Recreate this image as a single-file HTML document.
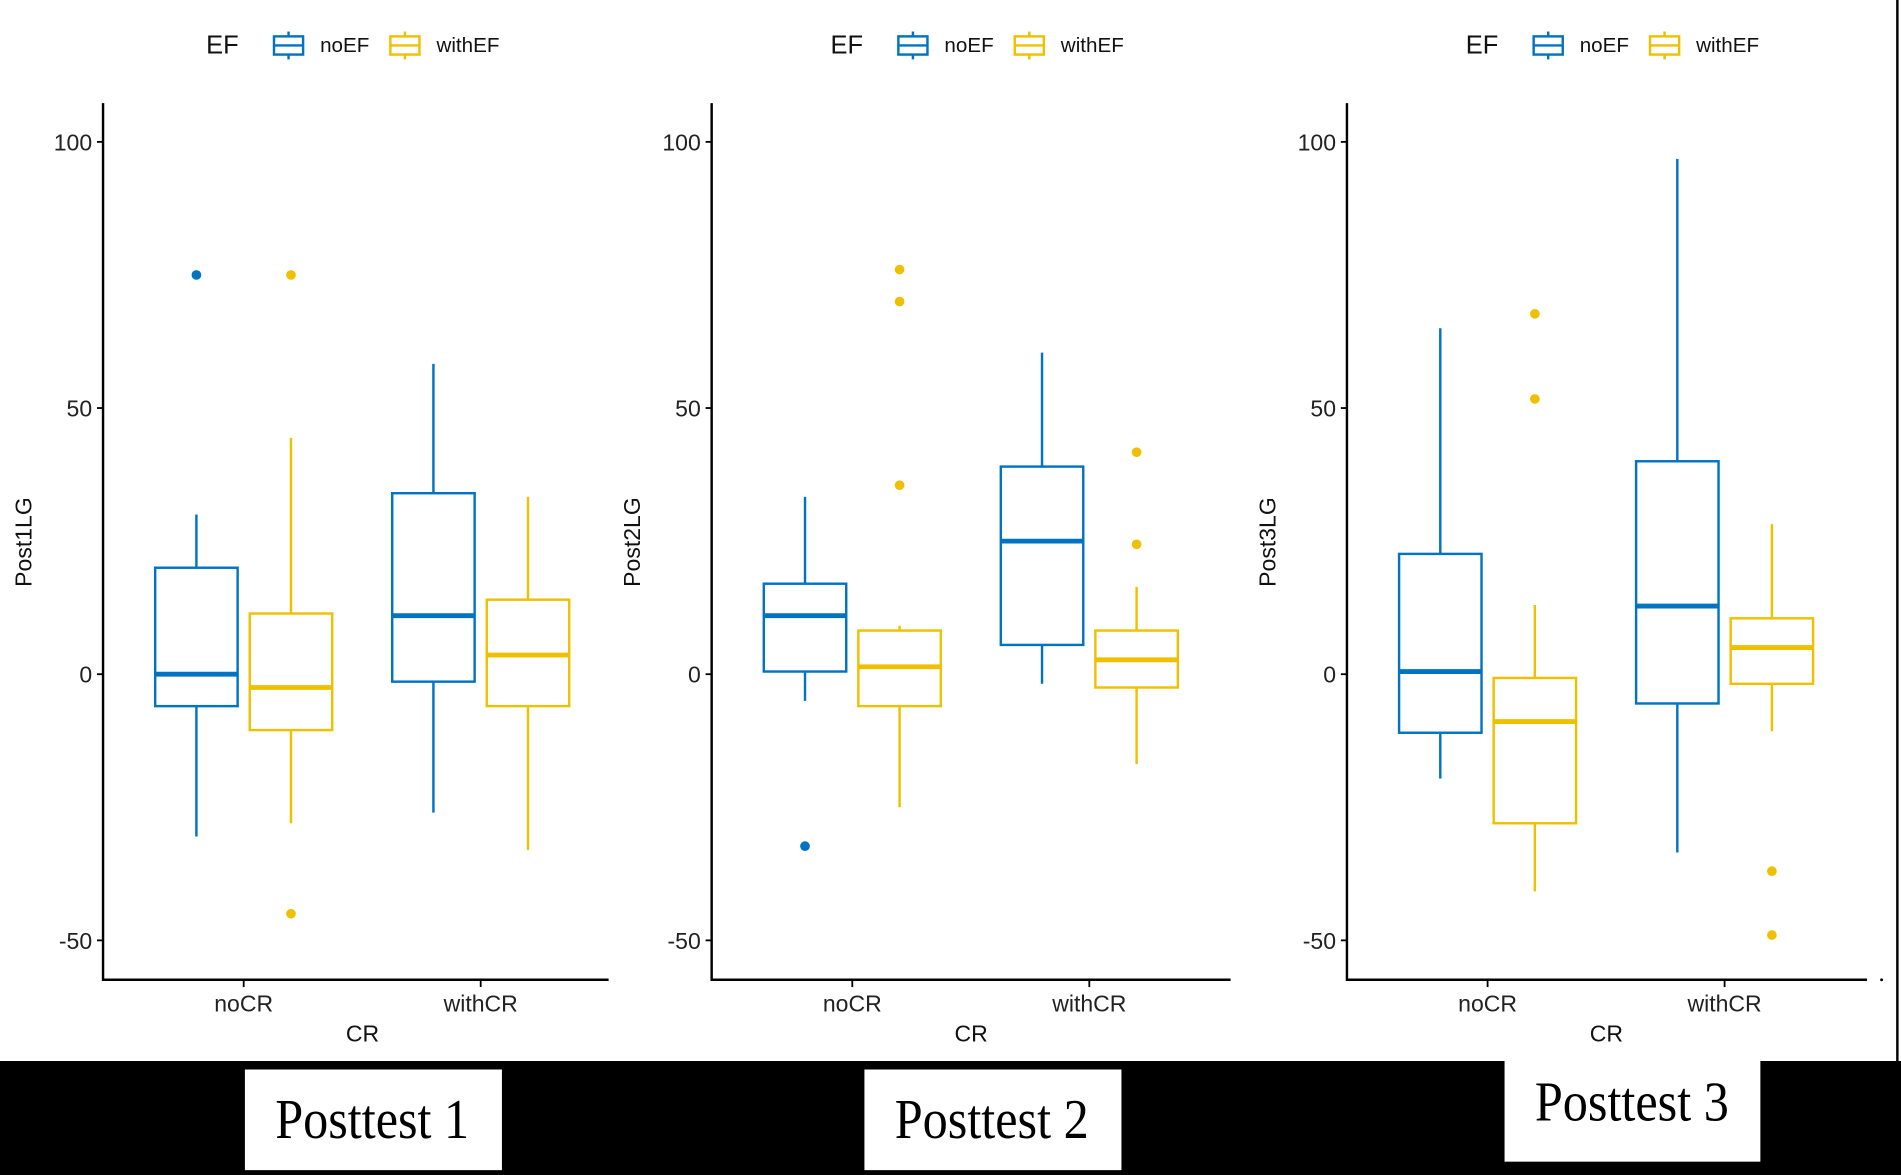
<!DOCTYPE html>
<html><head><meta charset="utf-8"><style>
html,body{margin:0;padding:0;background:#fff;}
svg{display:block;}
text{font-family:"Liberation Sans",Arial,sans-serif;}
</style></head><body>
<svg id="chart" width="1901" height="1175" viewBox="0 0 1568 969" preserveAspectRatio="none" xmlns="http://www.w3.org/2000/svg">
<rect x="0" y="0" width="1568" height="969" fill="#fff"/>
<rect x="0" y="875" width="1568" height="94" fill="#000"/>
<line x1="1565" y1="0" x2="1565" y2="875" stroke="#000" stroke-width="2"/>
<g id="plots"></g>
</svg>
<script>
const categories = ["noCR", "withCR"];
const groups = ["noEF", "withEF"];
const panelTitles = ["Posttest 1", "Posttest 2", "Posttest 3"];
const yLabels = ["Post1LG", "Post2LG", "Post3LG"];
const yTicks = [-50, 0, 50, 100];
// each box: [lowWhisker, Q1, median, Q3, highWhisker]
const p1Boxes = [[-30.5,-6,0,20,30],[-28,-10.5,-2.5,11.4,44.4],[-26,-1.4,11,34,58.3],[-33,-6,3.6,14,33.3]];
const p1Outliers = [[75],[75,-45],[],[]];
const p2Boxes = [[-5,0.5,11,17,33.3],[-25,-6,1.4,8.2,9.1],[-1.8,5.5,25,39,60.4],[-16.9,-2.5,2.7,8.2,16.4]];
const p2Outliers = [[-32.3],[76,70,35.5],[],[41.7,24.4]];
const p3Boxes = [[-19.6,-11,0.5,22.6,65],[-40.8,-28,-8.9,-0.7,13],[-33.5,-5.5,12.8,40,96.8],[-10.7,-1.8,5,10.5,28.2]];
const p3Outliers = [[],[67.7,51.7],[],[-37,-49]];
const allBoxes = [p1Boxes, p2Boxes, p3Boxes];
const allOutliers = [p1Outliers, p2Outliers, p3Outliers];

const NS = "http://www.w3.org/2000/svg";
const colors = ["#0073C2", "#EFC000"];
const root = document.getElementById("plots");
const axisX = [85, 587, 1111];
const axisEnd = [502, 1015, 1540];
const legendX = [170, 685, 1209];
const labelBoxes = [[202,882,212,83],[713,882,212,83],[1241,860,211,98]];
function yScale(v){ return 556 - 4.39 * v; }
function xCat(p, i){ return axisX[p] + 116 + i * 195.5; }
function mk(tag, attrs, parent){
  const e = document.createElementNS(NS, tag);
  for (const k in attrs) e.setAttribute(k, attrs[k]);
  (parent || root).appendChild(e);
  return e;
}
function txt(s, attrs, parent){ const t = mk("text", attrs, parent); t.textContent = s; return t; }

for (let p = 0; p < 3; p++) {
  const g = mk("g", {});
  
  
  const lg = mk("g", {}, g);
  
  
  const lx = legendX[p];
  txt("EF", {x: lx, y: 44, "font-size": 21, fill: "#111"}, lg);
  const keyX = [lx + 56, lx + 152];
  const keyLabels = ["noEF", "withEF"];
  for (let k = 0; k < 2; k++) {
    const ke = mk("g", {}, lg);
    
    
    const kx = keyX[k];
    mk("rect", {x: kx, y: 30, width: 24, height: 15, fill: "none", stroke: colors[k], "stroke-width": 2}, ke);
    mk("line", {x1: kx, x2: kx + 24, y1: 37.5, y2: 37.5, stroke: colors[k], "stroke-width": 2}, ke);
    mk("line", {x1: kx + 12, x2: kx + 12, y1: 26, y2: 30, stroke: colors[k], "stroke-width": 2}, ke);
    mk("line", {x1: kx + 12, x2: kx + 12, y1: 45, y2: 49, stroke: colors[k], "stroke-width": 2}, ke);
    txt(keyLabels[k], {x: kx + 38, y: 43, "font-size": 17, fill: "#111"}, ke);
  }
  const ax = axisX[p];
  const yAx = mk("g", {}, g);
  
  
  mk("line", {x1: ax, x2: ax, y1: 85, y2: 809, stroke: "#000", "stroke-width": 2}, yAx);
  for (const t of yTicks) {
    const y = yScale(t);
    mk("line", {x1: ax - 5, x2: ax, y1: y, y2: y, stroke: "#000", "stroke-width": 1.5}, yAx);
    txt(String(t), {x: ax - 9, y: y + 7, "font-size": 19, fill: "#222", "text-anchor": "end"}, yAx);
  }
  const yl = txt(yLabels[p], {x: 0, y: 0, "font-size": 19, fill: "#111", "text-anchor": "middle", transform: `translate(${ax - 59},447) rotate(-90)`}, g);
  
  
  const xAx = mk("g", {}, g);
  
  
  mk("line", {x1: ax, x2: axisEnd[p], y1: 808, y2: 808, stroke: "#000", "stroke-width": 2}, xAx);
  for (let c = 0; c < 2; c++) {
    const x = xCat(p, c);
    mk("line", {x1: x, x2: x, y1: 808, y2: 814, stroke: "#000", "stroke-width": 1.5}, xAx);
    txt(categories[c], {x: x, y: 834, "font-size": 19, fill: "#222", "text-anchor": "middle"}, xAx);
  }
  const xt = txt("CR", {x: ax + 214, y: 859, "font-size": 19, fill: "#111", "text-anchor": "middle"}, g);
  
  
  const boxes = allBoxes[p], outs = allOutliers[p];
  for (let b = 0; b < 4; b++) {
    const c = Math.floor(b / 2), s = b % 2;
    const cx = xCat(p, c) + (s === 0 ? -39 : 39);
    const col = colors[s];
    const [lo, q1, md, q3, hi] = boxes[b];
    const bg = mk("g", {}, g);
    
    
    mk("line", {x1: cx, x2: cx, y1: yScale(hi), y2: yScale(q3), stroke: col, "stroke-width": 2}, bg);
    mk("line", {x1: cx, x2: cx, y1: yScale(q1), y2: yScale(lo), stroke: col, "stroke-width": 2}, bg);
    mk("rect", {x: cx - 34, y: yScale(q3), width: 68, height: yScale(q1) - yScale(q3), fill: "none", stroke: col, "stroke-width": 2}, bg);
    mk("line", {x1: cx - 34, x2: cx + 34, y1: yScale(md), y2: yScale(md), stroke: col, "stroke-width": 4}, bg);
    for (const o of outs[b]) {
      const pt = mk("circle", {cx: cx, cy: yScale(o), r: 4, fill: col}, bg);
      
      
    }
  }
  const [bx, by, bw, bh] = labelBoxes[p];
  const lb = mk("g", {}, g);
  
  
  mk("rect", {x: bx, y: by, width: bw, height: bh, fill: "#fff"}, lb);
  txt(panelTitles[p], {x: bx + 25, y: by + bh / 2 + 15, "font-size": 46, fill: "#000", textLength: 160, lengthAdjust: "spacingAndGlyphs", style: 'font-family:"Liberation Serif",serif'}, lb);
}
mk("circle", {cx: 1552, cy: 808, r: 1.2, fill: "#000"});
</script>
</body></html>
